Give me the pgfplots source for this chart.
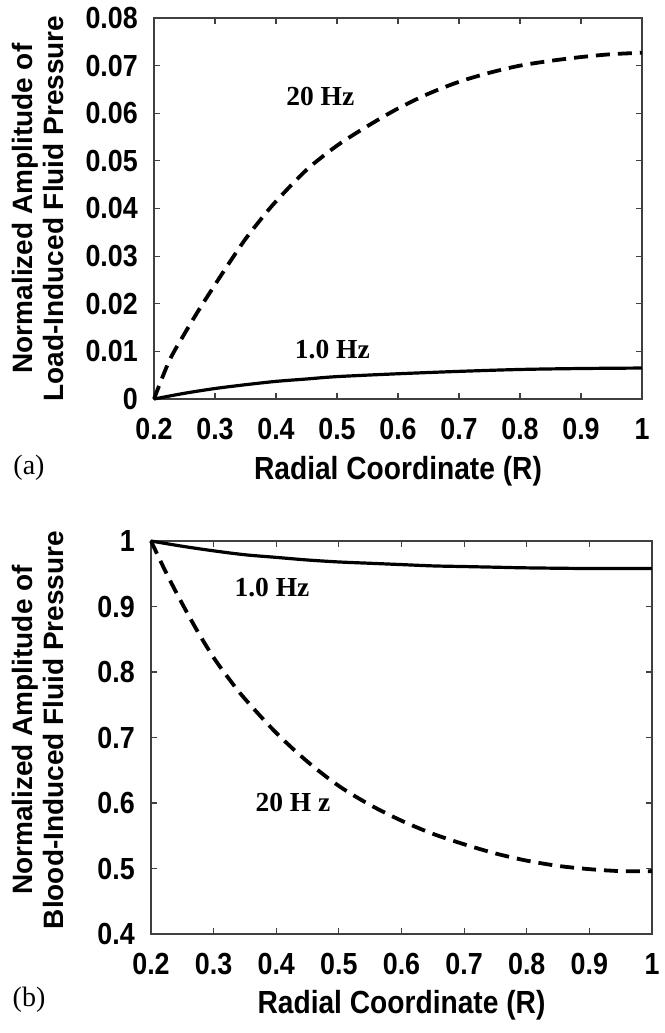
\documentclass[border=0pt]{standalone}
\usepackage{fontspec}
\setmainfont{Liberation Serif}
\newfontfamily\arial{Liberation Sans}
\newfontfamily\arialn{Liberation Sans}[FakeStretch=0.88]
\usepackage{pgfplots}
\pgfplotsset{compat=1.18}

\pgfplotsset{
  panel/.style={
    scale only axis, anchor=north west, clip=false,
    xmin=0.2, xmax=1,
    xtick={0.2,0.3,0.4,0.5,0.6,0.7,0.8,0.9,1},
    xticklabels={0.2,0.3,0.4,0.5,0.6,0.7,0.8,0.9,1},
    scaled x ticks=false, scaled y ticks=false,
    tick align=inside, major tick length=6pt,
    axis line style={line width=1.3pt, black!75},
    every tick/.style={black!75, line width=1.1pt},
    tick label style={font=\arialn\bfseries\fontsize{30.5}{30}\selectfont, inner sep=0pt},
    xticklabel style={anchor=north, yshift=-19pt},
    yticklabel style={anchor=east, xshift=-16pt},
    xlabel style={anchor=center, font=\arialn\bfseries\fontsize{32}{32}\selectfont},
    ylabel style={align=center, anchor=center, font=\arial\bfseries\fontsize{28}{31}\selectfont},
  },
}
\tikzset{
  hz20/.style={black, line width=3.8pt, dash pattern=on 14pt off 8pt, smooth, tension=0.5},
  hz1/.style={black, line width=3.2pt, smooth, tension=0.5},
  note/.style={font=\bfseries\fontsize{27.5}{28}\selectfont},
}

\begin{document}
\begin{tikzpicture}
\path[use as bounding box] (0,0) rectangle (664pt,-1033pt);

% (a) load-induced
\begin{axis}[panel,
  at={(154pt,-18pt)}, width=488pt, height=381pt,
  ymin=0, ymax=0.08,
  ytick={0,0.01,0.02,0.03,0.04,0.05,0.06,0.07,0.08},
  yticklabels={0,0.01,0.02,0.03,0.04,0.05,0.06,0.07,0.08},
  xlabel={Radial Coordinate (R)},
  xlabel style={at={(axis description cs:0.5,-0.19)}},
  ylabel={Normalized Amplitude of\\Load-Induced Fluid Pressure},
  ylabel style={at={(axis description cs:-0.2387,0.5)}},
]
\addplot[hz20] coordinates {
  (0.2,0) (0.225,0.0080) (0.25,0.0137) (0.275,0.0190) (0.3,0.0240)
  (0.325,0.0289) (0.35,0.0336) (0.375,0.0377) (0.4,0.0415) (0.45,0.0481)
  (0.5,0.0532) (0.55,0.0573) (0.6,0.0610) (0.65,0.0641) (0.7,0.0666)
  (0.75,0.0685) (0.8,0.0700) (0.85,0.0710) (0.9,0.0718) (0.95,0.0724)
  (1.0,0.0727)
};
\addplot[hz1] coordinates {
  (0.2,0) (0.25,0.0012) (0.3,0.0022) (0.35,0.0030) (0.4,0.0037)
  (0.45,0.0042) (0.5,0.0047) (0.6,0.0053) (0.7,0.0058) (0.8,0.0062)
  (0.9,0.0064) (1.0,0.0065)
};
\node[note] at (axis cs:0.4727,0.0636) {20 Hz};
\node[note] at (axis cs:0.4924,0.0103) {1.0 Hz};
\end{axis}
\node[font=\fontsize{28}{28}\selectfont] at (29pt,-468pt) {(a)};

% (b) blood-induced
\begin{axis}[panel,
  at={(151pt,-541pt)}, width=501pt, height=393pt,
  ymin=0.4, ymax=1,
  ytick={0.4,0.5,0.6,0.7,0.8,0.9,1},
  yticklabels={0.4,0.5,0.6,0.7,0.8,0.9,1},
  xlabel={Radial Coordinate (R)},
  xlabel style={at={(axis description cs:0.5,-0.18)}},
  ylabel={Normalized Amplitude of\\Blood-Induced Fluid Pressure},
  ylabel style={at={(axis description cs:-0.2265,0.519)}},
]
\addplot[hz20] coordinates {
  (0.2,1.0) (0.225,0.950) (0.25,0.904) (0.275,0.861) (0.3,0.822)
  (0.325,0.789) (0.35,0.759) (0.4,0.707) (0.45,0.663) (0.5,0.626)
  (0.55,0.597) (0.6,0.573) (0.65,0.553) (0.7,0.537) (0.75,0.523)
  (0.8,0.512) (0.85,0.504) (0.9,0.499) (0.95,0.496) (1.0,0.496)
};
\addplot[hz1] coordinates {
  (0.2,1.0) (0.25,0.992) (0.3,0.985) (0.35,0.979) (0.4,0.975)
  (0.45,0.971) (0.5,0.968) (0.55,0.966) (0.6,0.964) (0.65,0.962)
  (0.7,0.961) (0.75,0.960) (0.8,0.959) (0.9,0.958) (1.0,0.958)
};
\node[note] at (axis cs:0.3932,0.929) {1.0 Hz};
\node[note] at (axis cs:0.4267,0.6008) {20 H z};
\end{axis}
\node[font=\fontsize{28}{28}\selectfont] at (29pt,-1000pt) {(b)};
\end{tikzpicture}
\end{document}
